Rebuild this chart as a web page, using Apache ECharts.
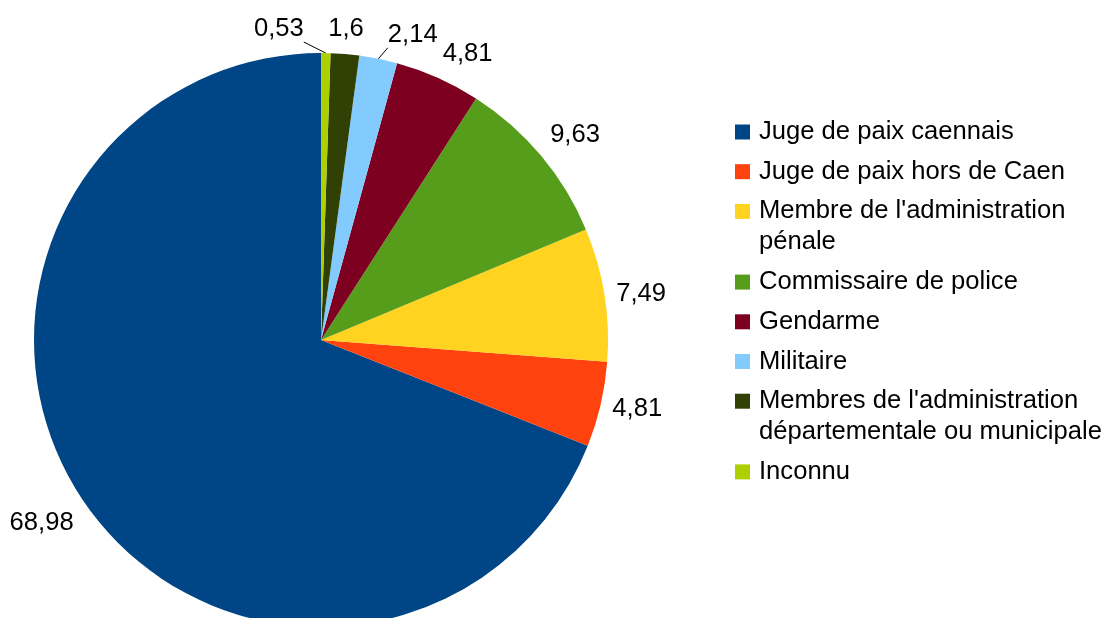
<!DOCTYPE html>
<html><head><meta charset="utf-8">
<script src="https://cdn.jsdelivr.net/npm/echarts@6/dist/echarts.min.js"></script>
<style>html,body{margin:0;padding:0;background:#fff}#c{width:1109px;height:618px}</style>
</head><body><div id="c"></div>
<script>
const categories = [
  "Juge de paix caennais",
  "Juge de paix hors de Caen",
  "Membre de l'administration\npénale",
  "Commissaire de police",
  "Gendarme",
  "Militaire",
  "Membres de l'administration\ndépartementale ou municipale",
  "Inconnu"
];
const values = [68.98, 4.81, 7.49, 9.63, 4.81, 2.14, 1.6, 0.53];
const colors = ['#004586', '#ff420e', '#ffd320', '#579d1c', '#7e0021', '#83caff', '#314004', '#aecf00'];

const CX = 321, CY = 340, R = 287, GAP = 12;
const FONT = 'Liberation Sans, Arial, sans-serif';
const FS = 25.6;

function layoutLabel(p) {
  const pts = p.labelLinePoints;
  if (!pts) return {};
  const x1 = pts[0][0], y1 = pts[0][1];
  const vx = x1 - CX, vy = y1 - CY, r = Math.hypot(vx, vy);
  const dx = vx / r, dy = vy / r;
  const s = Math.sin(Math.PI / 8);
  const va = Math.abs(dy) < s ? 'middle' : (dy > 0 ? 'top' : 'bottom');
  const res = {
    x: CX + dx * (r + GAP),
    y: CY + dy * (r + GAP) + (va === 'bottom' ? 0 : 2),
    align: Math.abs(dx) < s ? 'center' : (dx > 0 ? 'left' : 'right'),
    verticalAlign: va,
    labelLinePoints: [[x1, y1], [x1, y1]]
  };
  // labels pushed aside with a leader line (crowded top slices)
  if (p.dataIndex === 7) {
    res.align = 'right'; res.verticalAlign = 'bottom';
    res.x = x1 - 22; res.y = y1 - 11;
    res.labelLinePoints = [[x1, y1], [res.x, res.y]];
  } else if (p.dataIndex === 5) {
    res.align = 'left'; res.verticalAlign = 'bottom';
    res.x = x1 + 9.5; res.y = y1 - 11;
    res.labelLinePoints = [[x1, y1], [res.x, res.y]];
  }
  return res;
}

// legend rich styles: a coloured square token per category, then the text
const rich = {
  sp: {width: 9, height: 15, lineHeight: 31},
  ind: {width: 24, height: 15, lineHeight: 31},
  t: {fontSize: FS, fontFamily: FONT, color: '#000', lineHeight: 31}
};
colors.forEach((c, i) => { rich['s' + i] = {width: 15, height: 15, backgroundColor: c, lineHeight: 31}; });

function legendFormatter(name) {
  const i = categories.indexOf(name);
  const lines = name.split('\n');
  return lines.map((ln, k) => (k === 0 ? '{s' + i + '|}{sp|}' : '{ind|}') + '{t|' + ln + '}').join('\n');
}

const chart = echarts.init(document.getElementById('c'), null, {renderer: 'canvas'});
chart.setOption({
  animation: false,
  backgroundColor: '#ffffff',
  legend: {
    orient: 'vertical',
    left: 730,
    top: 116.5,
    padding: 0,
    itemWidth: 0,
    itemHeight: 0,
    itemGap: 8.7,
    icon: 'none',
    selectedMode: false,
    formatter: legendFormatter,
    textStyle: {fontSize: FS, fontFamily: FONT, color: '#000', lineHeight: 31, rich: rich},
    data: categories
  },
  series: [{
    type: 'pie',
    center: [CX, CY],
    radius: [0, R],
    startAngle: 90,
    clockwise: false,
    avoidLabelOverlap: false,
    silent: true,
    emphasis: {disabled: true},
    itemStyle: {borderWidth: 0},
    label: {
      show: true,
      position: 'outside',
      fontSize: FS,
      fontFamily: FONT,
      color: '#000',
      formatter: p => String(p.value).replace('.', ',')
    },
    labelLine: {show: true, length: 12, length2: 1, lineStyle: {color: '#000', width: 1}},
    labelLayout: layoutLabel,
    data: categories.map((n, i) => ({name: n, value: values[i], itemStyle: {color: colors[i]}}))
  }]
});
</script>
</body></html>
